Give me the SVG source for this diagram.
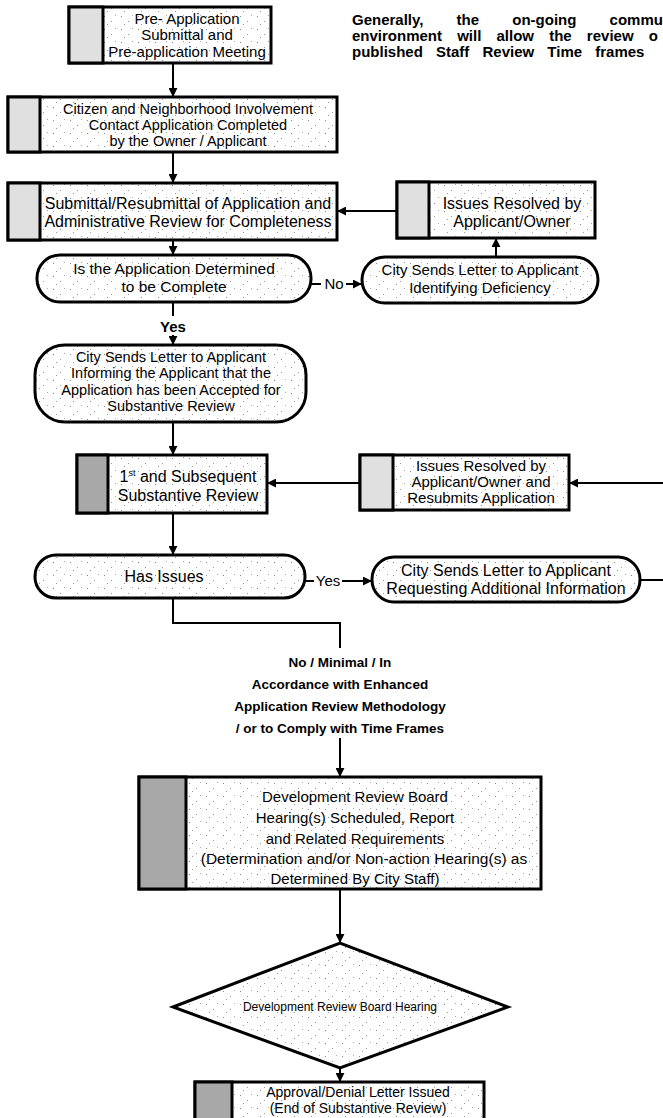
<svg xmlns="http://www.w3.org/2000/svg" width="663" height="1118" viewBox="0 0 663 1118">
<defs>
<marker id="ah" viewBox="0 0 10 10" refX="9" refY="5" markerWidth="9" markerHeight="9" markerUnits="userSpaceOnUse" orient="auto">
<path d="M0,0 L10,5 L0,10 z" fill="#000"/>
</marker>
<pattern id="speck" width="17" height="13" patternUnits="userSpaceOnUse">
<rect width="17" height="13" fill="#fff"/>
<rect x="2" y="3" width="1" height="1" fill="#888"/>
<rect x="9" y="8" width="1" height="1" fill="#999"/>
<rect x="13" y="2" width="1" height="1" fill="#aaa"/>
<rect x="5" y="11" width="1" height="1" fill="#999"/>
</pattern>
</defs>
<style>
.box{fill:url(#speck);stroke:#000;stroke-width:3}
.strip{fill:#e0e0e0;stroke:#000;stroke-width:3}
.stripd{fill:#a8a8a8;stroke:#000;stroke-width:3}
.t{font-family:"Liberation Sans",Arial,sans-serif;fill:#000;text-anchor:middle}
.small{font-family:"Liberation Sans",Arial,sans-serif;font-size:12px;fill:#000;text-anchor:middle}
.lbl{font-family:"Liberation Sans",Arial,sans-serif;font-size:13.5px;font-weight:bold;fill:#000;text-anchor:middle}
.note{font-family:"Liberation Sans",Arial,sans-serif;font-size:15px;font-weight:bold;fill:#000}
.yn{font-family:"Liberation Sans",Arial,sans-serif;font-size:15px;fill:#000;text-anchor:middle}
.c{fill:none;stroke:#000;stroke-width:2}
</style>

<g id="note">
<text class="note" x="352" y="25" word-spacing="29">Generally, the on-going commu</text>
<text class="note" x="352" y="41" word-spacing="11">environment will allow the review o</text>
<text class="note" x="352" y="57" word-spacing="9">published Staff Review Time frames</text>
</g>

<g id="n1">
<rect class="box" x="69" y="7" width="202" height="56"/>
<rect class="strip" x="69" y="7" width="34" height="56"/>
<text class="t" font-size="15" x="187" y="24">Pre- Application</text>
<text class="t" font-size="15" x="187" y="40">Submittal and</text>
<text class="t" font-size="15" x="187" y="57">Pre-application Meeting</text>
</g>

<g id="n2">
<rect class="box" x="8" y="97" width="329" height="55"/>
<rect class="strip" x="8" y="97" width="32" height="55"/>
<text class="t" font-size="14.5" x="188" y="114">Citizen and Neighborhood Involvement</text>
<text class="t" font-size="14.5" x="188" y="130">Contact Application Completed</text>
<text class="t" font-size="14.5" x="188" y="146">by the Owner / Applicant</text>
</g>

<g id="n3">
<rect class="box" x="8" y="183" width="329" height="57"/>
<rect class="strip" x="8" y="183" width="32" height="57"/>
<text class="t" font-size="16" x="188" y="209">Submittal/Resubmittal of Application and</text>
<text class="t" font-size="16" x="188" y="227">Administrative Review for Completeness</text>
</g>

<g id="n4">
<rect class="box" x="397" y="182" width="198" height="56"/>
<rect class="strip" x="397" y="182" width="32" height="56"/>
<text class="t" font-size="16" x="512" y="209">Issues Resolved by</text>
<text class="t" font-size="16" x="512" y="227">Applicant/Owner</text>
</g>

<g id="p1">
<rect class="box" x="37" y="255" width="274" height="47" rx="23"/>
<text class="t" font-size="15.5" x="174" y="274">Is the Application Determined</text>
<text class="t" font-size="15.5" x="174" y="292">to be Complete</text>
</g>

<g id="p2">
<rect class="box" x="362" y="257" width="236" height="46" rx="23"/>
<text class="t" font-size="15" x="480" y="275">City Sends Letter to Applicant</text>
<text class="t" font-size="15" x="480" y="293">Identifying Deficiency</text>
</g>

<g id="p3">
<rect class="box" x="35" y="345" width="271" height="77" rx="30"/>
<text class="t" font-size="14.5" x="171" y="362">City Sends Letter to Applicant</text>
<text class="t" font-size="14.5" x="171" y="378">Informing the Applicant that the</text>
<text class="t" font-size="14.5" x="171" y="395">Application has been Accepted for</text>
<text class="t" font-size="14.5" x="171" y="411">Substantive Review</text>
</g>

<g id="n5">
<rect class="box" x="77" y="455" width="190" height="58"/>
<rect class="stripd" x="77" y="455" width="31" height="58"/>
<text class="t" font-size="16" x="188" y="482">1<tspan font-size="9" dy="-6">st</tspan><tspan dy="6"> and Subsequent</tspan></text>
<text class="t" font-size="16" x="188" y="501">Substantive Review</text>
</g>

<g id="n6">
<rect class="box" x="360" y="455" width="209" height="55"/>
<rect class="strip" x="360" y="455" width="33" height="55"/>
<text class="t" font-size="15" x="481" y="471">Issues Resolved by</text>
<text class="t" font-size="15" x="481" y="487">Applicant/Owner and</text>
<text class="t" font-size="15" x="481" y="503">Resubmits Application</text>
</g>

<g id="p4">
<rect class="box" x="35" y="555" width="270" height="43" rx="21"/>
<text class="t" font-size="16" x="164" y="582">Has Issues</text>
</g>

<g id="p5">
<rect class="box" x="372" y="557" width="268" height="45" rx="22"/>
<text class="t" font-size="16" x="506" y="576">City Sends Letter to Applicant</text>
<text class="t" font-size="16" x="506" y="594">Requesting Additional Information</text>
</g>

<g id="n7">
<rect class="box" x="139" y="777" width="402" height="112"/>
<rect class="stripd" x="139" y="777" width="47" height="112"/>
<text class="t" font-size="15" x="355" y="802">Development Review Board</text>
<text class="t" font-size="15" x="355" y="823">Hearing(s) Scheduled, Report</text>
<text class="t" font-size="15" x="355" y="844">and Related Requirements</text>
<text class="t" font-size="15.5" x="364" y="864">(Determination and/or Non-action Hearing(s) as</text>
<text class="t" font-size="15" x="355" y="884">Determined By City Staff)</text>
</g>

<g id="d1">
<path class="box" d="M173,1007 L340,943 L508,1007 L340,1068 Z"/>
<text class="small" x="340" y="1011">Development Review Board Hearing</text>
</g>

<g id="n8">
<rect class="box" x="195" y="1082" width="289" height="45"/>
<rect class="stripd" x="195" y="1082" width="37" height="45"/>
<text class="t" font-size="14" x="358" y="1097">Approval/Denial Letter Issued</text>
<text class="t" font-size="14" x="358" y="1113">(End of Substantive Review)</text>
</g>

<g id="connectors">
<line class="c" x1="173" y1="63" x2="173" y2="96" marker-end="url(#ah)"/>
<line class="c" x1="173" y1="152" x2="173" y2="182" marker-end="url(#ah)"/>
<line class="c" x1="397" y1="211" x2="338" y2="211" marker-end="url(#ah)"/>
<line class="c" x1="173" y1="240" x2="173" y2="254" marker-end="url(#ah)"/>
<line class="c" x1="311" y1="284" x2="321" y2="284"/>
<line class="c" x1="346" y1="284" x2="361" y2="284" marker-end="url(#ah)"/>
<line class="c" x1="496" y1="257" x2="496" y2="239" marker-end="url(#ah)"/>
<line class="c" x1="173" y1="302" x2="173" y2="316"/>
<line class="c" x1="173" y1="335" x2="173" y2="344" marker-end="url(#ah)"/>
<line class="c" x1="173" y1="422" x2="173" y2="454" marker-end="url(#ah)"/>
<line class="c" x1="360" y1="483" x2="268" y2="483" marker-end="url(#ah)"/>
<line class="c" x1="663" y1="483" x2="570" y2="483" marker-end="url(#ah)"/>
<line class="c" x1="173" y1="513" x2="173" y2="554" marker-end="url(#ah)"/>
<line class="c" x1="305" y1="581" x2="314" y2="581"/>
<line class="c" x1="342" y1="581" x2="371" y2="581" marker-end="url(#ah)"/>
<line class="c" x1="640" y1="580" x2="663" y2="580"/>
<polyline class="c" points="173,598 173,623 340,623 340,648"/>
<line class="c" x1="340" y1="738" x2="340" y2="776" marker-end="url(#ah)"/>
<line class="c" x1="340" y1="889" x2="340" y2="942" marker-end="url(#ah)"/>
<line class="c" x1="340" y1="1068" x2="340" y2="1081" marker-end="url(#ah)"/>
<text class="yn" x="334" y="289">No</text>
<text class="yn" x="173" y="332" font-size="16" font-weight="bold">Yes</text>
<text class="yn" x="328" y="586">Yes</text>
<text class="lbl" x="340" y="667">No / Minimal / In</text>
<text class="lbl" x="340" y="689">Accordance with Enhanced</text>
<text class="lbl" x="340" y="711">Application Review Methodology</text>
<text class="lbl" x="340" y="733">/ or to Comply with Time Frames</text>
</g>
</svg>
